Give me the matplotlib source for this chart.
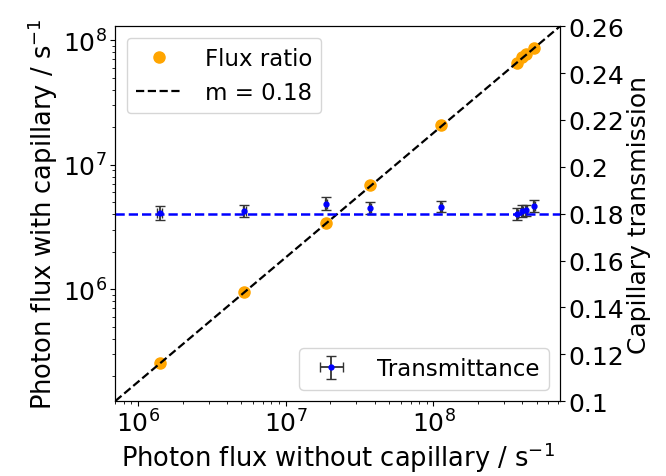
import numpy as np
import matplotlib
matplotlib.use("Agg")
import matplotlib.pyplot as plt

# flux without capillary (x) and with capillary (y), photons / s
flux_without = [1.40e6, 5.25e6, 1.86e7, 3.70e7, 1.12e8, 3.70e8, 4.00e8, 4.25e8, 4.80e8]
flux_with = [2.53e5, 9.5e5, 3.40e6, 6.9e6, 2.08e7, 6.5e7, 7.3e7, 7.7e7, 8.7e7]

# transmittance with errors
transmission = [0.1803, 0.1810, 0.1843, 0.1823, 0.1830, 0.1797, 0.1810, 0.1814, 0.1832]
trans_err = [0.0029, 0.0025, 0.0027, 0.0026, 0.0025, 0.0025, 0.0025, 0.0025, 0.0025]
flux_err = [0.05e6, 0.1e6, 0.3e6, 0.5e6, 1.5e6, 5e6, 5e6, 5e6, 6e6]

slope = 0.18
xlim = (7.0e5, 7.2e8)

plt.rcParams["font.size"] = 18
plt.rcParams["xtick.major.pad"] = 2.5
plt.rcParams["ytick.major.pad"] = 2.5

fig, ax = plt.subplots(figsize=(6.66, 4.77), dpi=100)
fig.subplots_adjust(left=0.173, right=0.841, top=0.943, bottom=0.157)

ax.plot(flux_without, flux_with, "o", color="orange", markersize=8, label="Flux ratio")
xs = np.array(xlim)
ax.plot(xs, slope * xs, "k--", linewidth=1.6, label="m = %.2f" % slope)
ax.set_xscale("log")
ax.set_yscale("log")
ax.set_xlim(xlim)
ax.set_ylim(slope * xs[0], slope * xs[1])
ax.set_xlabel("Photon flux without capillary / s$^{-1}$", fontsize=18.5, labelpad=2)
ax.set_ylabel("Photon flux with capillary / s$^{-1}$", fontsize=18.5, labelpad=2)
ax.legend(loc="upper left", fontsize=16.5, handletextpad=1.0)

ax2 = ax.twinx()
ax2.errorbar(flux_without, transmission, yerr=trans_err, xerr=flux_err, fmt=".",
             color="blue", ecolor="0.2", capsize=3.5, elinewidth=1.3,
             markersize=7, label="Transmittance")
ax2.axhline(slope, color="blue", linestyle="--", linewidth=1.8)
ax2.set_ylim(0.1, 0.26)
ticks = np.arange(0.10, 0.261, 0.02)
ax2.set_yticks(ticks)
ax2.set_yticklabels(["%g" % round(v, 2) for v in ticks])
ax2.set_ylabel("Capillary transmission", labelpad=2)
ax2.legend(loc="lower right", fontsize=16.5, handletextpad=1.0)

plt.savefig("out.png")
